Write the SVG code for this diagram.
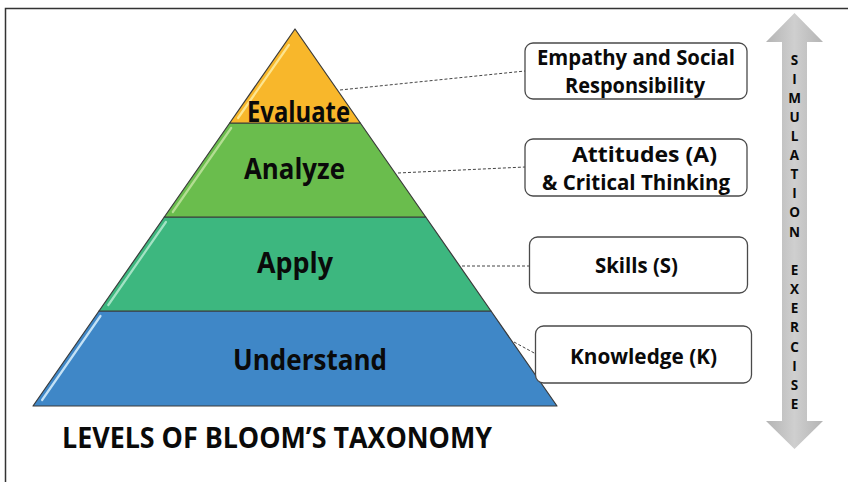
<svg xmlns="http://www.w3.org/2000/svg" width="848" height="482" viewBox="0 0 848 482">
  <defs>
    <linearGradient id="shaft" x1="0" y1="0" x2="1" y2="0">
      <stop offset="0" stop-color="#b4b4b4"/>
      <stop offset="0.5" stop-color="#cfcfcf"/>
      <stop offset="1" stop-color="#b4b4b4"/>
    </linearGradient>
    <style>
      .lbl { font-family: "Open Sans", "Liberation Sans", sans-serif; font-weight: 700; fill: #0a0a0a; }
      .lvl { font-size: 28px; text-anchor: middle; }
      .box { fill: #fff; stroke: #4a4a4a; stroke-width: 1.3; }
      .boxt { font-size: 22px; text-anchor: middle; }
      .edge { stroke: #3a3a3a; stroke-width: 1.2; stroke-linejoin: round; }
      .shine { stroke-width: 2.2; stroke-linecap: round; fill: none; }
      .dash { stroke: #444; stroke-width: 1; stroke-dasharray: 3 2; fill: none; }
      .vert { font-size: 13.5px; text-anchor: middle; }
    </style>
  </defs>

  <rect width="848" height="482" fill="#fff"/>
  <!-- frame (top and left edges) -->
  <path d="M5.5,482 V8.5 H848" fill="none" stroke="#333" stroke-width="1.5"/>

  <!-- connectors -->
  <g id="connectors">
    <line class="dash" x1="340" y1="90" x2="525" y2="71"/>
    <line class="dash" x1="398" y1="173" x2="525" y2="167"/>
    <line class="dash" x1="462" y1="266" x2="530" y2="266"/>
    <line class="dash" x1="514" y1="342" x2="536" y2="354"/>
  </g>

  <!-- pyramid levels -->
  <g id="level-understand">
    <polygon class="edge" points="99,311 491,311 557,406 33,406" fill="#3f87c7"/>
    <line class="shine" x1="100.5" y1="316" x2="42.1" y2="400" stroke="#c4e2f6"/>
    <text class="lbl lvl" x="310" y="370" textLength="154" lengthAdjust="spacingAndGlyphs">Understand</text>
  </g>
  <g id="level-apply">
    <polygon class="edge" points="164.3,217 425.7,217 491,311 99,311" fill="#3db77f"/>
    <line class="shine" x1="165.9" y1="222" x2="108.3" y2="305" stroke="#a3e3c4"/>
    <text class="lbl lvl" x="295" y="273" textLength="76" lengthAdjust="spacingAndGlyphs">Apply</text>
  </g>
  <g id="level-analyze">
    <polygon class="edge" points="229.7,123 360.3,123 425.7,217 164.3,217" fill="#6abd4d"/>
    <line class="shine" x1="231.2" y1="128" x2="172.8" y2="212" stroke="#b3de92"/>
    <text class="lbl lvl" x="294.5" y="179" textLength="101" lengthAdjust="spacingAndGlyphs">Analyze</text>
  </g>
  <g id="level-evaluate">
    <polygon class="edge" points="295,29 360.3,123 229.7,123" fill="#f8b72b"/>
    <line class="shine" x1="288.9" y1="45" x2="238.1" y2="118" stroke="#fde58f"/>
    <text class="lbl lvl" x="298.5" y="122" textLength="103" lengthAdjust="spacingAndGlyphs">Evaluate</text>
  </g>

  <!-- outcome boxes -->
  <g id="box-empathy">
    <rect class="box" x="525" y="43" width="222" height="56" rx="8"/>
    <text class="lbl boxt" x="636" y="65" textLength="198" lengthAdjust="spacingAndGlyphs">Empathy and Social</text>
    <text class="lbl boxt" x="635" y="93" textLength="140" lengthAdjust="spacingAndGlyphs">Responsibility</text>
  </g>
  <g id="box-attitudes">
    <rect class="box" x="525" y="139" width="222" height="57" rx="8"/>
    <text class="lbl boxt" x="644.5" y="162" textLength="145" lengthAdjust="spacingAndGlyphs">Attitudes (A)</text>
    <text class="lbl boxt" x="636" y="190" textLength="188" lengthAdjust="spacingAndGlyphs">&amp; Critical Thinking</text>
  </g>
  <g id="box-skills">
    <rect class="box" x="529.5" y="237" width="218" height="56" rx="8"/>
    <text class="lbl boxt" x="636.5" y="273" textLength="83" lengthAdjust="spacingAndGlyphs">Skills (S)</text>
  </g>
  <g id="box-knowledge">
    <rect class="box" x="535.5" y="326" width="216" height="57" rx="8"/>
    <text class="lbl boxt" x="643.5" y="364" textLength="147" lengthAdjust="spacingAndGlyphs">Knowledge (K)</text>
  </g>

  <!-- vertical double arrow -->
  <g id="simulation-arrow">
    <polygon points="794.5,13 823,42 807,42 807,421 823,421 794.5,449 766,421 782,421 782,42 766,42" fill="url(#shaft)"/>
    <g class="lbl vert">
      <text x="794.5" y="65">S</text>
      <text x="794.5" y="84">I</text>
      <text x="794.5" y="103">M</text>
      <text x="794.5" y="122">U</text>
      <text x="794.5" y="141">L</text>
      <text x="794.5" y="160">A</text>
      <text x="794.5" y="179">T</text>
      <text x="794.5" y="198">I</text>
      <text x="794.5" y="217">O</text>
      <text x="794.5" y="237">N</text>
      <text x="794.5" y="275">E</text>
      <text x="794.5" y="294">X</text>
      <text x="794.5" y="313">E</text>
      <text x="794.5" y="332">R</text>
      <text x="794.5" y="352">C</text>
      <text x="794.5" y="371">I</text>
      <text x="794.5" y="390">S</text>
      <text x="794.5" y="409">E</text>
    </g>
  </g>

  <!-- title -->
  <text id="title" class="lbl" x="62" y="448" font-size="28" textLength="430" lengthAdjust="spacingAndGlyphs">LEVELS OF BLOOM’S TAXONOMY</text>
</svg>
